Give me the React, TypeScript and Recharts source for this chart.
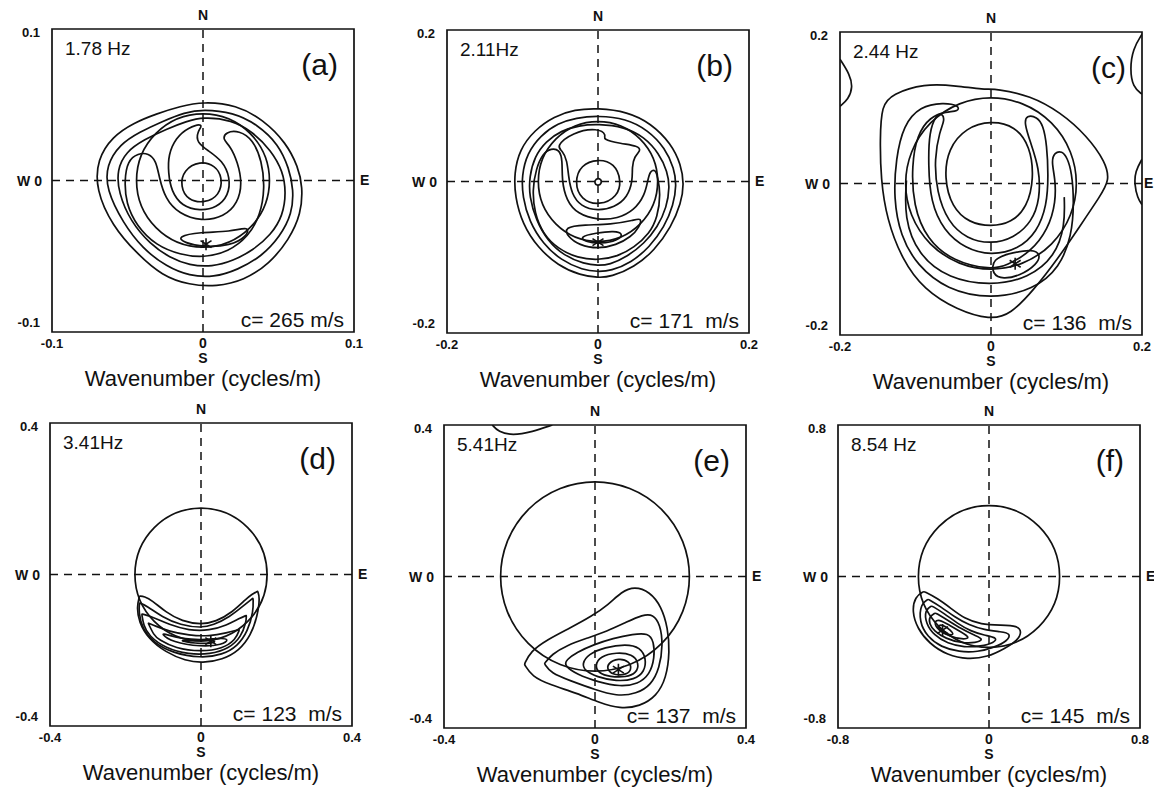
import {
  ComposedChart,
  Label,
  Line,
  ReferenceArea,
  ReferenceLine,
  Scatter,
  XAxis,
  YAxis,
} from "recharts";

type Pt = [number, number];

// ---- (a) 1.78 Hz ----------------------------------------------------------
const aRing1: Pt[] = [[0,0.052],[0.022,0.050],[0.040,0.040],[0.055,0.025],[0.063,0.009],[0.066,-0.004],[0.065,-0.022],[0.057,-0.039],[0.044,-0.055],[0.027,-0.066],[0.009,-0.070],[-0.009,-0.069],[-0.027,-0.063],[-0.044,-0.048],[-0.060,-0.030],[-0.071,-0.006],[-0.070,0.014],[-0.060,0.029],[-0.046,0.038],[-0.031,0.044],[-0.015,0.049]];
const aRing2: Pt[] = [[0,0.047],[0.020,0.045],[0.036,0.037],[0.050,0.024],[0.057,0.008],[0.060,-0.006],[0.059,-0.022],[0.051,-0.037],[0.039,-0.050],[0.023,-0.059],[0.007,-0.064],[-0.009,-0.063],[-0.024,-0.057],[-0.040,-0.045],[-0.053,-0.028],[-0.064,-0.006],[-0.064,0.010],[-0.055,0.024],[-0.042,0.032],[-0.027,0.039],[-0.012,0.045]];
const aRing3: Pt[] = [[0,0.042],[0.019,0.040],[0.033,0.032],[0.045,0.020],[0.053,0.006],[0.055,-0.008],[0.053,-0.023],[0.045,-0.036],[0.033,-0.046],[0.020,-0.053],[0.006,-0.057],[-0.009,-0.056],[-0.022,-0.051],[-0.035,-0.042],[-0.048,-0.027],[-0.056,-0.008],[-0.057,0.007],[-0.051,0.019],[-0.039,0.027],[-0.024,0.034],[-0.011,0.039]];
const aHook: Pt[] = [[0,-0.051],[-0.015,-0.049],[-0.031,-0.043],[-0.044,-0.030],[-0.051,-0.015],[-0.052,0.000],[-0.050,0.013],[-0.043,0.018],[-0.036,0.018],[-0.031,0.013],[-0.029,0.002],[-0.025,-0.012],[-0.016,-0.022],[-0.001,-0.027],[0.014,-0.024],[0.023,-0.015],[0.026,-0.002],[0.023,0.012],[0.018,0.023],[0.013,0.027],[0.015,0.032],[0.024,0.033],[0.033,0.027],[0.039,0.013],[0.041,-0.005],[0.038,-0.023],[0.030,-0.037],[0.017,-0.047]];
const aSpiral: Pt[] = [[0.001,0.038],[-0.004,0.032],[-0.004,0.025],[0.003,0.020],[0.013,0.013],[0.018,0.002],[0.017,-0.010],[0.009,-0.018],[-0.002,-0.020],[-0.014,-0.017],[-0.021,-0.007],[-0.023,0.005],[-0.023,0.017],[-0.018,0.028],[-0.010,0.035]];
const aCore: Pt[] = [[-0.002,0.013],[0.008,0.010],[0.013,0.002],[0.011,-0.010],[0.001,-0.015],[-0.010,-0.013],[-0.015,-0.004],[-0.013,0.007]];
const aLens: Pt[] = [[-0.017,-0.037],[-0.002,-0.034],[0.018,-0.034],[0.031,-0.030],[0.029,-0.037],[0.018,-0.043],[0.001,-0.044],[-0.013,-0.041]];
const aStar: Pt[] = [[0.002,-0.042]];

// ---- (b) 2.11 Hz ----------------------------------------------------------
const bRing1: Pt[] = [[0,0.097],[0.039,0.092],[0.070,0.077],[0.097,0.050],[0.110,0.022],[0.114,-0.003],[0.110,-0.029],[0.097,-0.060],[0.075,-0.091],[0.048,-0.113],[0.017,-0.126],[0,-0.127],[-0.023,-0.124],[-0.053,-0.111],[-0.080,-0.087],[-0.100,-0.056],[-0.110,-0.020],[-0.111,0.011],[-0.104,0.042],[-0.084,0.068],[-0.058,0.086],[-0.031,0.095]];
const bRing2: Pt[] = [[0,0.087],[0.037,0.083],[0.066,0.068],[0.089,0.044],[0.101,0.017],[0.104,-0.005],[0.100,-0.031],[0.088,-0.060],[0.068,-0.087],[0.044,-0.107],[0.017,-0.118],[0,-0.119],[-0.020,-0.117],[-0.049,-0.104],[-0.073,-0.082],[-0.091,-0.053],[-0.100,-0.020],[-0.101,0.008],[-0.094,0.037],[-0.076,0.061],[-0.053,0.077],[-0.029,0.084]];
const bRing3: Pt[] = [[0,0.076],[0.035,0.072],[0.061,0.059],[0.081,0.037],[0.092,0.013],[0.095,-0.007],[0.091,-0.034],[0.079,-0.060],[0.061,-0.082],[0.039,-0.099],[0.015,-0.110],[0,-0.111],[-0.018,-0.109],[-0.045,-0.098],[-0.067,-0.078],[-0.082,-0.051],[-0.091,-0.020],[-0.091,0.006],[-0.084,0.033],[-0.069,0.053],[-0.049,0.067],[-0.025,0.074]];
const bHook: Pt[] = [[0,-0.104],[-0.027,-0.101],[-0.053,-0.089],[-0.073,-0.069],[-0.084,-0.042],[-0.087,-0.011],[-0.082,0.017],[-0.073,0.037],[-0.062,0.044],[-0.051,0.042],[-0.047,0.028],[-0.048,0.002],[-0.042,-0.025],[-0.027,-0.043],[0,-0.051],[0.026,-0.049],[0.048,-0.038],[0.062,-0.018],[0.066,0.002],[0.069,0.014],[0.076,0.016],[0.079,0.006],[0.083,-0.016],[0.079,-0.047],[0.068,-0.069],[0.048,-0.087],[0.026,-0.099]];
const bLoop: Pt[] = [[-0.056,0.046],[-0.034,0.065],[0,0.071],[0.012,0.061],[0.005,0.056],[0.030,0.050],[0.053,0.047],[0.057,0.041],[0.048,0.033],[0.045,0.019],[0.046,0.001],[0.039,-0.021],[0.022,-0.034],[0,-0.039],[-0.023,-0.033],[-0.035,-0.016],[-0.039,0.006],[-0.041,0.028],[-0.047,0.041]];
const bCore: Pt[] = [[0,0.030],[0.022,0.024],[0.031,0.001],[0.026,-0.020],[0.002,-0.032],[-0.023,-0.024],[-0.031,-0.001],[-0.023,0.022]];
const bDot: Pt[] = [[-0.003,0.004],[0.004,0.004],[0.005,-0.003],[-0.001,-0.006],[-0.005,-0.002]];
const bLensA: Pt[] = [[-0.045,-0.060],[-0.018,-0.057],[0.017,-0.057],[0.048,-0.051],[0.058,-0.048],[0.055,-0.060],[0.044,-0.073],[0.024,-0.084],[0,-0.089],[-0.025,-0.084],[-0.040,-0.073]];
const bLensB: Pt[] = [[-0.025,-0.073],[-0.003,-0.068],[0.022,-0.065],[0.034,-0.069],[0.026,-0.078],[0.004,-0.082],[-0.016,-0.080]];
const bStar: Pt[] = [[0,-0.080]];

// ---- (c) 2.44 Hz ----------------------------------------------------------
const cRing1: Pt[] = [[-0.145,0.103],[-0.131,0.118],[-0.089,0.132],[-0.045,0.129],[-0.010,0.124],[0.008,0.125],[0.052,0.116],[0.092,0.094],[0.127,0.063],[0.152,0.028],[0.157,0.004],[0.145,-0.016],[0.118,-0.056],[0.088,-0.100],[0.057,-0.140],[0.026,-0.173],[-0.001,-0.180],[-0.045,-0.167],[-0.089,-0.140],[-0.118,-0.100],[-0.138,-0.047],[-0.146,0.006],[-0.147,0.059]];
const cBandA: Pt[] = [[-0.063,0.107],[-0.094,0.102],[-0.116,0.077],[-0.126,0.033],[-0.129,-0.020],[-0.120,-0.069],[-0.098,-0.108],[-0.059,-0.140],[0,-0.153],[0.057,-0.140],[0.091,-0.111],[0.107,-0.069],[0.110,-0.024],[0.107,0.015],[0.101,0.034],[0.094,0.043],[0.084,0.041],[0.080,0.029],[0.085,0.007],[0.086,-0.024],[0.076,-0.060],[0.052,-0.091],[0.021,-0.108],[0,-0.114],[-0.050,-0.103],[-0.085,-0.074],[-0.103,-0.029],[-0.105,0.024],[-0.098,0.064],[-0.081,0.088],[-0.059,0.095],[-0.043,0.095],[-0.042,0.103]];
const cBandB: Pt[] = [[-0.072,0.091],[-0.082,0.069],[-0.083,0.024],[-0.080,-0.024],[-0.063,-0.062],[-0.034,-0.086],[0,-0.095],[0.036,-0.087],[0.061,-0.064],[0.074,-0.029],[0.076,0.011],[0.074,0.051],[0.069,0.077],[0.061,0.088],[0.047,0.090],[0.044,0.080],[0.052,0.055],[0.064,0.020],[0.065,-0.020],[0.054,-0.051],[0.030,-0.072],[0,-0.080],[-0.032,-0.073],[-0.057,-0.051],[-0.072,-0.011],[-0.075,0.033],[-0.068,0.069],[-0.061,0.084],[-0.065,0.093]];
const cCore: Pt[] = [[0,0.083],[0.032,0.076],[0.052,0.049],[0.057,0.007],[0.048,-0.031],[0.027,-0.052],[0,-0.057],[-0.029,-0.052],[-0.052,-0.031],[-0.062,0.007],[-0.057,0.046],[-0.033,0.074]];
const cLens: Pt[] = [[0.001,-0.099],[0.030,-0.091],[0.054,-0.087],[0.066,-0.093],[0.061,-0.107],[0.038,-0.122],[0.016,-0.126],[0.002,-0.121]];
const cLowU: Pt[] = [[-0.112,0.004],[-0.115,-0.045],[-0.097,-0.094],[-0.056,-0.126],[0,-0.135],[0.050,-0.125],[0.085,-0.096],[0.098,-0.056],[0.097,-0.018]];
const cEdgeL: Pt[] = [[-0.200,0.164],[-0.187,0.144],[-0.183,0.127],[-0.189,0.111],[-0.200,0.102]];
const cEdgeR1: Pt[] = [[0.200,0.197],[0.188,0.178],[0.184,0.151],[0.188,0.127],[0.200,0.118]];
const cEdgeR2: Pt[] = [[0.200,0.032],[0.191,0.016],[0.190,-0.001],[0.194,-0.019],[0.200,-0.028]];
const cStar: Pt[] = [[0.032,-0.106]];

// ---- (d) 3.41 Hz ----------------------------------------------------------
const dC1: Pt[] = [[-0.163,-0.057],[-0.163,-0.057],[-0.170,-0.085],[-0.165,-0.125],[-0.139,-0.170],[-0.094,-0.205],[-0.041,-0.228],[0.004,-0.234],[0.057,-0.225],[0.101,-0.201],[0.132,-0.161],[0.150,-0.108],[0.156,-0.060],[0.150,-0.044],[0.150,-0.044],[0.135,-0.052],[0.119,-0.065],[0.084,-0.099],[0.039,-0.125],[0,-0.132],[-0.050,-0.124],[-0.094,-0.099],[-0.130,-0.068],[-0.150,-0.058]];
const dC2: Pt[] = [[-0.163,-0.075],[-0.163,-0.075],[-0.165,-0.099],[-0.156,-0.143],[-0.125,-0.180],[-0.076,-0.207],[0,-0.221],[0.057,-0.212],[0.097,-0.189],[0.124,-0.150],[0.139,-0.097],[0.138,-0.062],[0.138,-0.062],[0.112,-0.083],[0.076,-0.112],[0.032,-0.134],[0,-0.141],[-0.054,-0.134],[-0.103,-0.112],[-0.145,-0.082]];
const dC3: Pt[] = [[-0.157,-0.104],[-0.157,-0.104],[-0.152,-0.135],[-0.139,-0.161],[-0.094,-0.195],[-0.032,-0.211],[0.023,-0.211],[0.075,-0.195],[0.106,-0.165],[0.120,-0.125],[0.120,-0.108],[0.120,-0.108],[0.103,-0.115],[0.068,-0.134],[0.023,-0.148],[-0.032,-0.148],[-0.085,-0.132],[-0.128,-0.112]];
const dC4: Pt[] = [[-0.140,-0.128],[-0.140,-0.128],[-0.125,-0.160],[-0.112,-0.172],[-0.068,-0.195],[0,-0.204],[0.057,-0.196],[0.092,-0.172],[0.102,-0.145],[0.102,-0.145],[0.068,-0.154],[0.023,-0.163],[-0.032,-0.161],[-0.085,-0.150],[-0.121,-0.136]];
const dC5: Pt[] = [[-0.108,-0.154],[-0.076,-0.179],[0,-0.191],[0.057,-0.186],[0.076,-0.170],[0.048,-0.168],[0.004,-0.173],[-0.050,-0.170],[-0.090,-0.159]];
const dC6: Pt[] = [[-0.059,-0.175],[0,-0.184],[0.044,-0.179],[0.028,-0.172],[-0.005,-0.177],[-0.041,-0.173]];
const dStar: Pt[] = [[0.026,-0.176]];

// ---- (e) 5.41 Hz ----------------------------------------------------------
const eE1: Pt[] = [[-0.187,-0.232],[-0.187,-0.232],[-0.167,-0.264],[-0.119,-0.286],[-0.048,-0.308],[0.013,-0.334],[0.066,-0.349],[0.119,-0.343],[0.163,-0.316],[0.189,-0.268],[0.198,-0.198],[0.193,-0.136],[0.176,-0.079],[0.145,-0.040],[0.105,-0.026],[0.070,-0.040],[0.035,-0.075],[-0.009,-0.105],[-0.066,-0.136],[-0.127,-0.167],[-0.171,-0.198]];
const eE2: Pt[] = [[-0.134,-0.230],[-0.134,-0.230],[-0.117,-0.255],[-0.066,-0.275],[0,-0.299],[0.057,-0.316],[0.110,-0.310],[0.149,-0.286],[0.171,-0.242],[0.180,-0.180],[0.173,-0.127],[0.154,-0.099],[0.126,-0.101],[0.084,-0.120],[0.031,-0.145],[-0.022,-0.163],[-0.075,-0.182],[-0.114,-0.205]];
const eE3: Pt[] = [[-0.082,-0.235],[-0.048,-0.259],[0.009,-0.279],[0.066,-0.291],[0.114,-0.284],[0.145,-0.259],[0.158,-0.215],[0.156,-0.171],[0.141,-0.149],[0.101,-0.152],[0.048,-0.163],[-0.004,-0.180],[-0.048,-0.200],[-0.076,-0.220]];
const eE4: Pt[] = [[-0.035,-0.231],[-0.018,-0.205],[0.026,-0.187],[0.082,-0.178],[0.120,-0.187],[0.136,-0.217],[0.131,-0.252],[0.105,-0.272],[0.057,-0.277],[0.004,-0.265],[-0.026,-0.249]];
const eE5: Pt[] = [[0,-0.235],[0.013,-0.211],[0.057,-0.200],[0.099,-0.205],[0.117,-0.229],[0.110,-0.255],[0.082,-0.266],[0.040,-0.265],[0.009,-0.255]];
const eE6: Pt[] = [[0.033,-0.229],[0.062,-0.215],[0.092,-0.224],[0.097,-0.246],[0.084,-0.259],[0.053,-0.261],[0.033,-0.249]];
const eEdge: Pt[] = [[-0.272,0.400],[-0.256,0.382],[-0.219,0.372],[-0.166,0.382],[-0.113,0.400]];
const eStar: Pt[] = [[0.062,-0.246]];

// ---- (f) 8.54 Hz ----------------------------------------------------------
const fF1: Pt[] = [[-0.392,-0.106],[-0.345,-0.079],[-0.345,-0.079],[-0.273,-0.115],[-0.202,-0.168],[-0.131,-0.222],[-0.043,-0.253],[0.064,-0.257],[0.152,-0.260],[0.174,-0.292],[0.152,-0.337],[0.082,-0.381],[-0.007,-0.425],[-0.113,-0.438],[-0.220,-0.416],[-0.317,-0.354],[-0.379,-0.275],[-0.408,-0.186]];
const fF2: Pt[] = [[-0.361,-0.142],[-0.322,-0.120],[-0.322,-0.120],[-0.255,-0.159],[-0.184,-0.213],[-0.105,-0.257],[-0.025,-0.282],[0.064,-0.292],[0.117,-0.301],[0.096,-0.342],[0.028,-0.374],[-0.060,-0.399],[-0.158,-0.399],[-0.255,-0.372],[-0.326,-0.319],[-0.370,-0.239]];
const fF3: Pt[] = [[-0.340,-0.177],[-0.303,-0.155],[-0.303,-0.155],[-0.237,-0.195],[-0.167,-0.248],[-0.096,-0.289],[-0.025,-0.310],[0.046,-0.323],[0.028,-0.349],[-0.043,-0.369],[-0.131,-0.374],[-0.220,-0.354],[-0.291,-0.310],[-0.335,-0.248]];
const fF4: Pt[] = [[-0.317,-0.213],[-0.284,-0.192],[-0.284,-0.192],[-0.220,-0.230],[-0.149,-0.275],[-0.078,-0.310],[-0.025,-0.331],[-0.069,-0.351],[-0.149,-0.351],[-0.229,-0.328],[-0.291,-0.289],[-0.317,-0.248]];
const fF5: Pt[] = [[-0.294,-0.239],[-0.264,-0.225],[-0.211,-0.257],[-0.149,-0.292],[-0.096,-0.324],[-0.140,-0.333],[-0.211,-0.315],[-0.269,-0.284]];
const fF6: Pt[] = [[-0.273,-0.260],[-0.246,-0.253],[-0.202,-0.284],[-0.184,-0.310],[-0.220,-0.307],[-0.259,-0.289]];
const fStar: Pt[] = [[-0.246,-0.283]];

// panel texts, axis limits and circle radii
const frequencies = ["1.78 Hz", "2.11Hz", "2.44 Hz", "3.41Hz", "5.41Hz", "8.54 Hz"];
const speeds = [
  "c=\u00a0265\u00a0m/s",
  "c=\u00a0171\u00a0\u00a0m/s",
  "c=\u00a0136\u00a0\u00a0m/s",
  "c=\u00a0123\u00a0\u00a0m/s",
  "c=\u00a0137\u00a0\u00a0m/s",
  "c=\u00a0145\u00a0\u00a0m/s",
];
const tags = ["(a)", "(b)", "(c)", "(d)", "(e)", "(f)"];
const limits = [0.1, 0.2, 0.2, 0.4, 0.4, 0.8];
const circleRadii = [0.044, 0.079, 0.113, 0.175, 0.25, 0.374];

const closedContours: Pt[][][] = [
  [aRing1, aRing2, aRing3, aHook, aSpiral, aCore, aLens],
  [bRing1, bRing2, bRing3, bHook, bLoop, bCore, bDot, bLensA, bLensB],
  [cRing1, cBandA, cBandB, cCore, cLens],
  [dC1, dC2, dC3, dC4, dC5, dC6],
  [eE1, eE2, eE3, eE4, eE5, eE6],
  [fF1, fF2, fF3, fF4, fF5, fF6],
];
const openContours: Pt[][][] = [[], [], [cLowU, cEdgeL, cEdgeR1, cEdgeR2], [], [eEdge], []];
const stars: Pt[][] = [aStar, bStar, cStar, dStar, eStar, fStar];

// where each plot box sits on the page
const boxPos = [
  { left: 52, top: 29 },
  { left: 447, top: 30 },
  { left: 840, top: 32 },
  { left: 50, top: 423 },
  { left: 444, top: 425 },
  { left: 838, top: 425 },
];

const PAD_L = 52;
const PAD_T = 29;
const FONT = "'Liberation Sans', Arial, Helvetica, sans-serif";
const INK = "#111";
const LW = 1.7;

const rows = (pts: Pt[]) => pts.map(([x, y]) => ({ x, y }));

function CircleShape(props: any) {
  const { x, y, width, height } = props;
  return (
    <ellipse
      cx={x + width / 2}
      cy={y + height / 2}
      rx={Math.abs(width) / 2}
      ry={Math.abs(height) / 2}
      fill="none"
      stroke={INK}
      strokeWidth={LW}
    />
  );
}

function Asterisk(props: any) {
  const { cx, cy } = props;
  if (cx == null || cy == null) return null;
  return (
    <path
      d={`M${cx} ${cy - 6}L${cx} ${cy + 6}M${cx - 5.5} ${cy - 3.5}L${cx + 5.5} ${cy + 3.5}M${cx + 5.5} ${cy - 3.5}L${cx - 5.5} ${cy + 3.5}`}
      stroke={INK}
      strokeWidth={1.6}
      fill="none"
    />
  );
}

function renderXTick(props: any, half: number) {
  const { x, y, payload } = props;
  const v = payload.value;
  if (v === 0) {
    return (
      <g>
        <text x={x} y={y + 16} textAnchor="middle" fontSize={14} fontWeight="bold" fill={INK}>0</text>
        <text x={x} y={y + 31} textAnchor="middle" fontSize={14} fontWeight="bold" fill={INK}>S</text>
      </g>
    );
  }
  return (
    <text x={x} y={y + 16} textAnchor="middle" fontSize={13} fontWeight="bold" fill={INK}>
      {v < 0 ? `-${half}` : `${half}`}
    </text>
  );
}

function renderYTick(props: any, half: number) {
  const { x, y, payload } = props;
  const v = payload.value;
  if (v === 0) {
    return (
      <text x={x - 10} y={y + 5} textAnchor="end" fontSize={14} fontWeight="bold" fill={INK}>
        W 0
      </text>
    );
  }
  return (
    <text x={x - 12} y={v > 0 ? y + 8 : y - 5} textAnchor="end" fontSize={13} fontWeight="bold" fill={INK}>
      {v < 0 ? `-${half}` : `${half}`}
    </text>
  );
}

function Panel({ i }: { i: number }) {
  const h = limits[i];
  const r = circleRadii[i];
  const ticks = [-h, 0, h];
  const pos = boxPos[i];
  return (
    <div style={{ position: "absolute", left: pos.left - PAD_L, top: pos.top - PAD_T }}>
      <ComposedChart width={387} height={392} margin={{ top: PAD_T, right: 33, bottom: 0, left: 0 }}>
        <XAxis
          type="number"
          dataKey="x"
          domain={[-h, h]}
          ticks={ticks}
          interval={0}
          allowDataOverflow
          axisLine={false}
          tickLine={false}
          tickSize={0}
          tickMargin={0}
          height={60}
          tick={(p: any) => renderXTick(p, h)}
          label={{
            value: "Wavenumber (cycles/m)",
            position: "insideBottom",
            offset: 6,
            fontSize: 22,
            fill: INK,
          }}
        />
        <YAxis
          type="number"
          dataKey="y"
          domain={[-h, h]}
          ticks={ticks}
          interval={0}
          allowDataOverflow
          axisLine={false}
          tickLine={false}
          tickSize={0}
          tickMargin={0}
          width={PAD_L}
          tick={(p: any) => renderYTick(p, h)}
        />
        <ReferenceLine
          x={0}
          stroke={INK}
          strokeWidth={1.5}
          strokeDasharray="8 6"
          label={{ value: "N", position: "top", offset: 9, fontSize: 14, fontWeight: "bold", fill: INK }}
        />
        <ReferenceLine
          y={0}
          stroke={INK}
          strokeWidth={1.5}
          strokeDasharray="8 6"
          label={{ value: "E", position: "right", offset: i === 2 ? 2 : 6, fontSize: 14, fontWeight: "bold", fill: INK }}
        />
        <ReferenceArea x1={-h} x2={h} y1={-h} y2={h} fill="none" fillOpacity={0} stroke={INK} strokeWidth={LW}>
          <Label value={frequencies[i]} position="insideTopLeft" offset={13} fontSize={19} fill={INK} />
          <Label value={tags[i]} position="insideTopRight" offset={16} dy={9} fontSize={30} fill={INK} />
          <Label value={speeds[i]} position="insideBottomRight" offset={10} dy={5} fontSize={21} fill={INK} />
        </ReferenceArea>
        <ReferenceArea x1={-r} x2={r} y1={-r} y2={r} fill="none" shape={CircleShape} />
        {closedContours[i].map((pts, k) => (
          <Line
            key={`c${k}`}
            data={rows(pts)}
            dataKey="y"
            type="basisClosed"
            stroke={INK}
            strokeWidth={LW}
            dot={false}
            activeDot={false}
            isAnimationActive={false}
          />
        ))}
        {openContours[i].map((pts, k) => (
          <Line
            key={`o${k}`}
            data={rows(pts)}
            dataKey="y"
            type="basis"
            stroke={INK}
            strokeWidth={LW}
            dot={false}
            activeDot={false}
            isAnimationActive={false}
          />
        ))}
        <Scatter data={rows(stars[i])} dataKey="y" shape={Asterisk} isAnimationActive={false} />
      </ComposedChart>
    </div>
  );
}

export default function App() {
  return (
    <div
      style={{
        position: "absolute",
        left: 0,
        top: 0,
        width: 1154,
        height: 789,
        overflow: "hidden",
        background: "#fff",
        fontFamily: FONT,
      }}
    >
      {[0, 1, 2, 3, 4, 5].map((i) => (
        <Panel key={i} i={i} />
      ))}
    </div>
  );
}
